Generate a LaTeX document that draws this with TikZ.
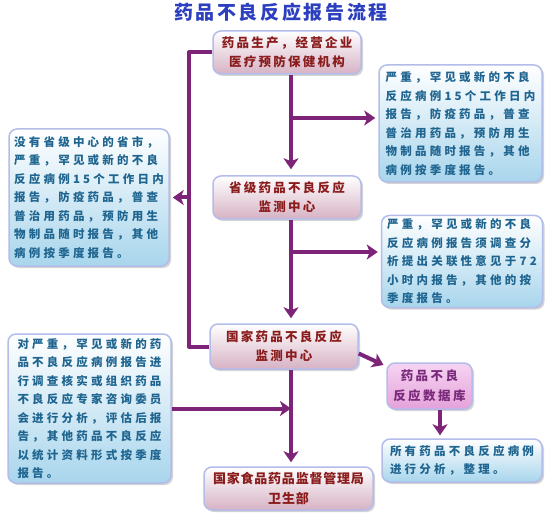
\documentclass[tikz,border=0pt]{standalone}
\usepackage{fontspec}
\setmainfont{Noto Sans CJK SC}
\usepackage{tikz}
\usetikzlibrary{arrows.meta,positioning,shadows}
\definecolor{flowc}{HTML}{7D2378}
\definecolor{edgec}{HTML}{B4BCEA}
\definecolor{redtxt}{HTML}{8A1C1C}
\definecolor{bluetxt}{HTML}{1F6590}
\definecolor{titlec}{HTML}{2B3FBF}
\definecolor{redlow}{HTML}{D6B2C4}
\definecolor{bluelow}{HTML}{A8D5EC}
\definecolor{dbtop}{HTML}{F6D4F2}
\definecolor{dblow}{HTML}{E4A2DA}
\definecolor{dbtxt}{HTML}{7A2A7A}
\tikzset{
  every picture/.style={line join=round},
  card/.style={draw=edgec, line width=1.5pt, rounded corners=8pt,
    drop shadow={opacity=0.35, shadow xshift=2pt, shadow yshift=-2pt}},
  redbox/.style={card, top color=white, bottom color=redlow, text=redtxt,
    align=center, minimum width=148pt, minimum height=43pt, inner sep=2pt,
    font={\bfseries\fontsize{12.5}{19}\selectfont\addfontfeature{LetterSpace=18}}},
  bluebox/.style={card, top color=white, bottom color=bluelow, text=bluetxt,
    align=left, inner sep=2pt,
    font={\bfseries\fontsize{11.5}{18.5}\selectfont\addfontfeature{LetterSpace=28}}},
  dbbox/.style={card, top color=dbtop, bottom color=dblow, text=dbtxt,
    align=center, minimum width=85pt, minimum height=46pt, inner sep=2pt,
    font={\bfseries\fontsize{12.5}{20}\selectfont\addfontfeature{LetterSpace=20}}},
  flow/.style={draw=flowc, line width=4pt, shorten >=3pt,
    -{Stealth[length=11pt,width=15pt,inset=3pt]}},
  rail/.style={draw=flowc, line width=4pt},
}

\begin{document}
\begin{tikzpicture}[x=1pt, y=-1pt]
\useasboundingbox (0,0) rectangle (559,529);

%% Title
\node[text=titlec, font={\bfseries\fontsize{19}{22}\selectfont\addfontfeature{LetterSpace=14}}]
  (title) at (281,12) {药品不良反应报告流程};

%% Middle column
\node[redbox] (prod) at (287,52.5) {药品生产，经营企业\\医疗预防保健机构};
\node[redbox] (prov) at (287,197.5) {省级药品不良反应\\监测中心};
\node[redbox, minimum height=45pt] (nat) at (284,346.5) {国家药品不良反应\\监测中心};
\node[redbox, minimum width=169pt, font={\bfseries\fontsize{13}{20}\selectfont\addfontfeature{LetterSpace=6}}]
  (gov) at (288.5,488.5) {国家食品药品监督管理局\\卫生部};

%% Right column
\node[bluebox, minimum width=163pt, minimum height=117pt] (rep1) at (460.5,123.5)
  {严重，罕见或新的不良\\反应病例15个工作日内\\报告，防疫药品，普查\\普治用药品，预防用生\\物制品随时报告，其他\\病例按季度报告。};
\node[bluebox, minimum width=161pt, minimum height=92pt] (rep2) at (462,261.5)
  {严重，罕见或新的不良\\反应病例报告须调查分\\析提出关联性意见于72\\小时内报告，其他的按\\季度报告。};
\node[dbbox] (db) at (429.5,386) {药品不良\\反应数据库};
\node[bluebox, minimum width=160pt, minimum height=43pt] (all) at (462,460.5)
  {所有药品不良反应病例\\进行分析，整理。};

%% Left column
\node[bluebox, minimum width=160pt, minimum height=137pt] (info1) at (89,197.5)
  {没有省级中心的省市，\\严重，罕见或新的不良\\反应病例15个工作日内\\报告，防疫药品，普查\\普治用药品，预防用生\\物制品随时报告，其他\\病例按季度报告。};
\node[bluebox, minimum width=163pt, minimum height=149pt] (info2) at (89.5,408.5)
  {对严重，罕见或新的药\\品不良反应病例报告进\\行调查核实或组织药品\\不良反应专家咨询委员\\会进行分析，评估后报\\告，其他药品不良反应\\以统计资料形式按季度\\报告。};

%% Guide coordinates
\coordinate (spine) at (291,0);
\coordinate (side) at (189,0);
\coordinate (b1) at (291,118);
\coordinate (b2) at (291,252);
\coordinate (drop) at (440,0);

%% Main flow
\draw[flow, shorten >=6pt] (prod.south -| spine) -- (prov.north -| spine);
\draw[flow] (b1) -- (b1 -| rep1.west);
\draw[flow, shorten >=5pt] (prov.south -| spine) -- (nat.north -| spine);
\draw[flow] (b2) -- (b2 -| rep2.west);
\draw[flow, shorten >=4pt] (nat.south -| spine) -- (gov.north -| spine);

%% Direct route without provincial centre
\draw[rail] (prod.west) -- (prod.west -| side) -- (nat.west -| side) -- (nat.west);
\draw[flow] (info1.east -| side) -- (info1.east);
\draw[flow, shorten >=0pt] (info2.east) -- (info2.east -| spine);

%% Database
\draw[flow] ([yshift=-7pt]nat.east) -- ([yshift=-4pt]db.north west);
\draw[flow] (db.south -| drop) -- (all.north -| drop);

\end{tikzpicture}
\end{document}
